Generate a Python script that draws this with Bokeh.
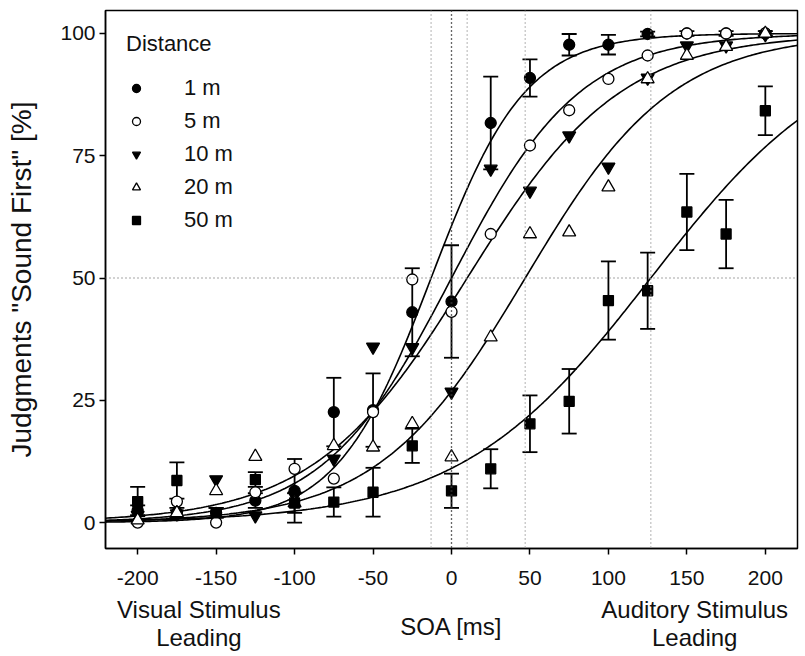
import numpy as np
from bokeh.plotting import figure
from bokeh.layouts import column
from bokeh.models import (ColumnDataSource, Whisker, TeeHead, Span, Legend,
                          LegendItem, FixedTicker, Range1d)
from bokeh.core.properties import value
from bokeh.embed import file_html
from bokeh.resources import INLINE

# ---------------- data ----------------
soa = [-200, -175, -150, -125, -100, -75, -50, -25, 0, 25, 50, 75, 100, 125, 150, 175, 200]

d1m = [2.5, 2, 2, 4.5, 6.5, 22.6, 23, 43, 45.2, 81.7, 90.9, 97.7, 97.7, 99.9, 100, 100, 100]
e1m = [1, 1, 1, 1.5, 6.5, 7, 7.5, 9, 11.5, 9.5, 3.8, 2.2, 2, 0.5, 0.5, 0.5, 0.5]
d5m = [0, 4.3, 0, 6.2, 11, 9, 22.6, 49.7, 43.1, 59, 77.1, 84.3, 90.7, 95.5, 100, 100, 100]
d10m = [1.5, 1.8, 8.8, 1.4, 5.5, 13, 35.9, 35.8, 26.7, 72.3, 67.8, 79.1, 72.7, 90.9, 97.5, 97.5, 99.8]
d20m = [0.5, 2, 6.5, 13.5, 4, 15.7, 15.4, 20.2, 13.4, 37.9, 59, 59.4, 68.6, 90.7, 95.5, 97.3, 100]
d50m = [4.3, 8.6, 2, 8.8, 4, 4.2, 6.2, 15.7, 6.5, 11, 20.2, 24.8, 45.4, 47.4, 63.5, 59, 84.2]
e50m = [3, 3.7, 1, 1.5, 2, 3, 5, 3.5, 3.5, 4, 5.8, 6.6, 8, 7.8, 7.8, 7, 5]

distances = ["1 m", "5 m", "10 m", "20 m", "50 m"]
# fitted logistic parameters (PSS in ms, width in ms)
pss = [-13, 0, 10, 47, 127]
width = [30, 41, 49, 47, 61]

x_ticks = [-200, -150, -100, -50, 0, 50, 100, 150, 200]
y_ticks = [0, 25, 50, 75, 100]

bottom_texts = ["Visual Stimulus", "Leading", "SOA [ms]", "Auditory Stimulus", "Leading"]
bottom_x = [-161, -161, 0, 155, 155]
bottom_row = [44, 16, 27, 44, 16]

FONT = "Liberation Sans"

p = figure(width=803, height=595, output_backend="svg", toolbar_location=None,
           x_range=Range1d(-220.5, 220.5), y_range=Range1d(-5.3, 104.7),
           min_border_left=105, min_border_right=6, min_border_top=10, min_border_bottom=47)
p.grid.visible = False
p.outline_line_color = "black"
p.outline_line_width = 1.5
p.background_fill_color = "white"

for ax in (p.xaxis[0], p.yaxis[0]):
    ax.axis_line_color = "black"
    ax.axis_line_width = 1.5
    ax.major_tick_line_color = "black"
    ax.major_tick_line_width = 1.5
    ax.major_tick_out = 6
    ax.major_tick_in = 0
    ax.minor_tick_line_color = None
    ax.major_label_text_font = FONT
    ax.major_label_text_font_size = "21px"
    ax.major_label_text_color = "#111111"

p.xaxis.ticker = FixedTicker(ticks=x_ticks)
p.yaxis.ticker = FixedTicker(ticks=y_ticks)
p.xaxis.major_label_overrides = {t: str(t) for t in x_ticks}
p.xaxis.major_label_standoff = 16
p.yaxis.major_label_standoff = 4
p.yaxis.axis_label = 'Judgments "Sound First" [%]'
p.yaxis.axis_label_text_font = FONT
p.yaxis.axis_label_text_font_size = "28px"
p.yaxis.axis_label_text_font_style = "normal"
p.yaxis.axis_label_text_color = "#111111"
p.yaxis.axis_label_standoff = 20

# reference lines
for loc in pss:
    p.add_layout(Span(location=loc, dimension="height", line_color="#999999",
                      line_dash="1 3", line_width=1.5))
p.add_layout(Span(location=0, dimension="height", line_color="black",
                  line_dash="1 3", line_width=1.2))
p.add_layout(Span(location=50, dimension="width", line_color="#888888",
                  line_dash="1 3", line_width=1.5))

# fitted curves
xs = np.linspace(-222, 222, 300)
for p0, w in zip(pss, width):
    ys = 100.0 / (1.0 + np.exp(-(xs - p0) / w))
    p.line(xs, ys, line_color="black", line_width=1.6)

# error bars
for d, e in ((d1m, e1m), (d50m, e50m)):
    src = ColumnDataSource(dict(x=soa, upper=[a + b for a, b in zip(d, e)],
                                lower=[a - b for a, b in zip(d, e)]))
    wk = Whisker(source=src, base="x", upper="upper", lower="lower",
                 line_color="black", line_width=1.8,
                 upper_head=TeeHead(size=15, line_color="black", line_width=1.8),
                 lower_head=TeeHead(size=15, line_color="black", line_width=1.8))
    p.add_layout(wk)

styles = [
    (d1m, "circle", "black", 11),
    (d5m, "circle", "white", 11),
    (d10m, "inverted_triangle", "black", 13),
    (d20m, "triangle", "white", 13),
    (d50m, "square", "black", 10),
]
items = []
for name, (d, marker, fill, size) in zip(distances, styles):
    r = p.scatter(soa, d, marker=marker, size=size, fill_color=fill,
                  line_color="black", line_width=1.3)
    items.append(LegendItem(label=name, renderers=[r]))

legend = Legend(items=items, location="top_left", title="Distance",
                label_text_font=FONT, label_text_font_size="22px",
                label_text_color="#111111",
                title_text_font=FONT, title_text_font_size="22px",
                title_text_font_style="normal", title_text_color="#111111",
                background_fill_alpha=0, border_line_color=None,
                margin=21, padding=10, spacing=7, label_height=26, glyph_height=26,
                glyph_width=20, label_standoff=38, title_standoff=18)
p.add_layout(legend)

# strip below the axis holding the x-axis descriptions
p2 = figure(width=803, height=58, output_backend="svg", toolbar_location=None,
            x_range=p.x_range, y_range=Range1d(0, 58),
            x_axis_type=None, y_axis_type=None,
            min_border_left=105, min_border_right=6, min_border_top=0, min_border_bottom=0)
p2.grid.visible = False
p2.outline_line_color = None
p2.text(x=bottom_x, y=bottom_row, text=bottom_texts, text_align="center",
        text_baseline="middle", text_font=value(FONT), text_font_size=value("24px"),
        text_color="#111111")

layout = column(p, p2, spacing=0)
open("out.html", "w").write(file_html(layout, INLINE))
